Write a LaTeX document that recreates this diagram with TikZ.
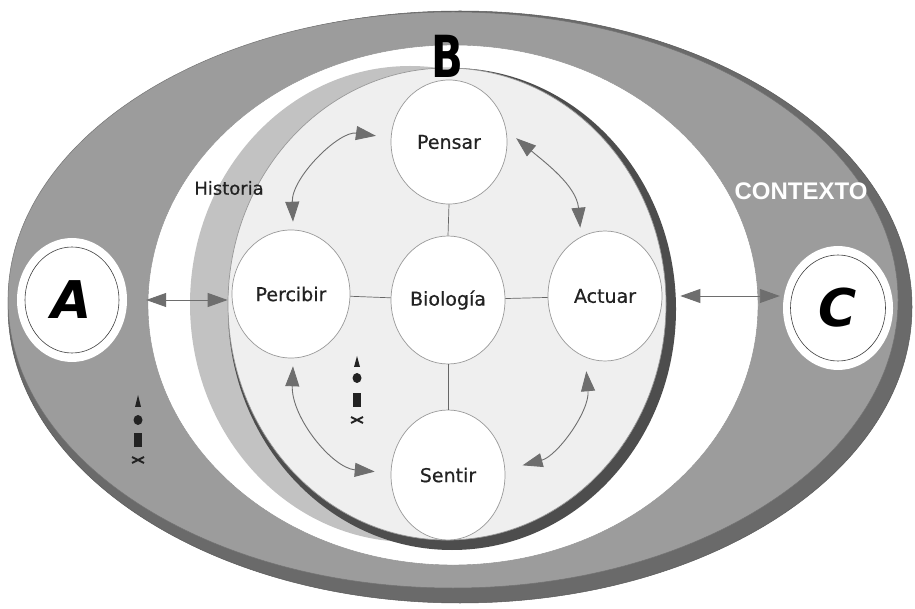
\documentclass[tikz,border=0pt]{standalone}
\usepackage{fontspec}
\usepackage{graphicx}
\setmainfont{DejaVu Sans}
\newfontfamily\lblfont[FakeBold=0.5]{DejaVu Sans}
\newfontfamily\ctxfont{Liberation Sans}
\usetikzlibrary{shapes.geometric,arrows.meta}
\definecolor{ringgray}{HTML}{9C9C9C}
\definecolor{ringshadow}{HTML}{6A6A6A}
\definecolor{histgray}{HTML}{C2C2C2}
\definecolor{bfill}{HTML}{EFEFEF}
\definecolor{bshadow}{HTML}{4D4D4D}
\definecolor{arrowgray}{HTML}{6E6E6E}
\definecolor{textdark}{HTML}{222222}
\tikzset{
  bubble/.style={ellipse, draw=black!40, line width=0.7pt, fill=white, inner sep=0pt,
    font=\lblfont\fontsize{19}{19}\selectfont, text=textdark},
  ringout/.style={ellipse, fill=white, inner sep=0pt},
  ringin/.style={ellipse, draw=black!75, line width=0.6pt, fill=white, inner sep=0pt,
    font=\fontsize{52}{52}\selectfont\bfseries\itshape, text=black},
  link/.style={draw=black!60, line width=0.7pt},
  dblarrow/.style={draw=arrowgray, line width=0.9pt,
    {Triangle[length=20pt,width=14pt]}-{Triangle[length=20pt,width=14pt]}},
  glyph/.style={fill=textdark, draw=none}
}
\begin{document}
\begin{tikzpicture}[x=1pt,y=1pt]
\useasboundingbox (0,0) rectangle (915,608);
\fill[white] (0,0) rectangle (915,608);
% context ring
\fill[ringshadow, draw=black!65, line width=0.5pt] (460,301) ellipse [x radius=452pt, y radius=296pt];
\fill[ringgray, draw=black!55, line width=0.5pt] (453,308) ellipse [x radius=445pt, y radius=288pt];
\fill[white, draw=black!45, line width=0.4pt] (453,303) ellipse [x radius=305pt, y radius=260pt];
% historia band
\fill[histgray] (410,304) ellipse [x radius=220pt, y radius=238pt];
% B
\fill[bshadow] (452,299) ellipse [x radius=224pt, y radius=241pt];
\fill[bfill, draw=black!40, line width=0.7pt] (447,304) ellipse [x radius=219pt, y radius=236pt];

% nodes
\node[bubble, minimum width=116pt, minimum height=124pt] (pensar) at (449,466) {Pensar};
\node[bubble, minimum width=118pt, minimum height=128pt] (percibir) at (291,314) {Percibir};
\node[bubble, minimum width=114pt, minimum height=128pt] (biologia) at (448,308) {Biología};
\node[bubble, minimum width=114pt, minimum height=130pt] (actuar) at (605,312) {Actuar};
\node[bubble, minimum width=114pt, minimum height=130pt] (sentir) at (448,133) {Sentir};

\node[ringout, minimum width=110pt, minimum height=124pt] (aouter) at (72,308) {};
\node[ringin, minimum width=94pt, minimum height=106pt] (a) at (72,308) {A};
\node[ringout, minimum width=110pt, minimum height=124pt] (couter) at (838,300) {};
\node[ringin, minimum width=95pt, minimum height=106pt] (c) at (838,300) {\raisebox{-6pt}{C}};

% labels
\node[font=\fontsize{58}{58}\selectfont\bfseries, text=black] (blabel) at (447,552) {\scalebox{0.72}[1]{B}};
\node[font=\ctxfont\fontsize{24}{24}\selectfont\bfseries, text=white] (ctx) at (801,417) {CONTEXTO};
\node[font=\lblfont\fontsize{18}{18}\selectfont, text=textdark] (hist) at (229,420) {Historia};

% links
\draw[link] (percibir) -- (biologia);
\draw[link] (biologia) -- (actuar);
\draw[link] (pensar.south) -- (biologia.north);
\draw[link] (biologia.south) -- (sentir.north);

% straight arrows
\draw[dblarrow, shorten <=19pt, shorten >=4pt] (aouter.east) -- (aouter.east -| percibir.west);
\draw[dblarrow, shorten <=18pt, shorten >=3pt] (actuar.east) -- (actuar.east -| couter.west);

% curved arrows
\draw[dblarrow, shorten <=8pt, shorten >=15pt] (percibir.88) to[out=92, in=172] (pensar.176);
\draw[dblarrow, shorten <=13pt, shorten >=9pt] (pensar.12) to[out=-40, in=95] (actuar.112);
\draw[dblarrow, shorten <=8pt, shorten >=16pt] (percibir.-88) to[out=-92, in=175] (sentir.178);
\draw[dblarrow, shorten <=18pt, shorten >=14pt] (sentir.5) to[out=15, in=-85] (actuar.-108);

% symbol stacks
\fill[glyph] (135,201) -- (141,201) -- (138,213) -- cycle;
\fill[glyph] (138,188) ellipse [x radius=4.5pt, y radius=5pt];
\fill[glyph] (134,161) rectangle (142,175);
\draw[textdark, line width=1.8pt] (132,145) -- (144,151) (132,151) -- (144,145);

\fill[glyph] (354,241) -- (360,241) -- (357,252) -- cycle;
\fill[glyph] (357,230) ellipse [x radius=4.5pt, y radius=5pt];
\fill[glyph] (353,201) rectangle (361,215);
\draw[textdark, line width=1.8pt] (351,185) -- (363,191) (351,191) -- (363,185);
\end{tikzpicture}
\end{document}
